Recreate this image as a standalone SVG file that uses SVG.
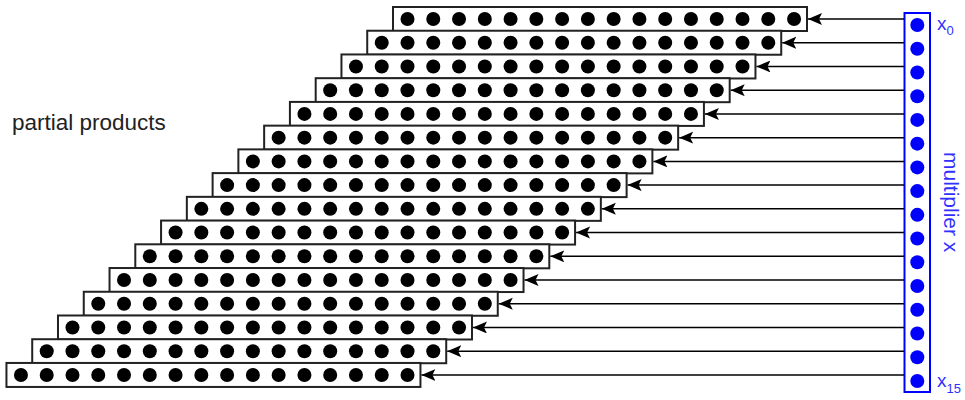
<svg xmlns="http://www.w3.org/2000/svg" xmlns:xlink="http://www.w3.org/1999/xlink" width="965" height="400" viewBox="0 0 965 400">
<style>
.row rect{fill:#fff;stroke:#222;stroke-width:2}
.dot{fill:#000}
.bdot{fill:#0000ff}
.conn path{stroke:#000;stroke-width:1.5;fill:none}
.lbl{font-family:"Liberation Sans",Arial,sans-serif;fill:#222}
.blbl{font-family:"Liberation Sans",Arial,sans-serif;fill:#3030ff}
</style>
<defs>
<marker id="ah" markerUnits="userSpaceOnUse" markerWidth="16" markerHeight="14" refX="14" refY="6" orient="auto">
<path d="M0,0 L14,6 L0,12 L3,6 z" fill="#000"/>
</marker>
<g id="row" class="row">
<rect x="0" y="0" width="414" height="24"/>
<g class="dot">
<circle cx="14.5" cy="12" r="7"/><circle cx="40.27" cy="12" r="7"/><circle cx="66.04" cy="12" r="7"/><circle cx="91.81" cy="12" r="7"/>
<circle cx="117.58" cy="12" r="7"/><circle cx="143.35" cy="12" r="7"/><circle cx="169.12" cy="12" r="7"/><circle cx="194.89" cy="12" r="7"/>
<circle cx="220.66" cy="12" r="7"/><circle cx="246.43" cy="12" r="7"/><circle cx="272.2" cy="12" r="7"/><circle cx="297.97" cy="12" r="7"/>
<circle cx="323.74" cy="12" r="7"/><circle cx="349.51" cy="12" r="7"/><circle cx="375.28" cy="12" r="7"/><circle cx="401.05" cy="12" r="7"/>
</g>
</g>
</defs>
<rect width="965" height="400" fill="#fff"/>
<g id="pp0"><use href="#row" transform="translate(393,7)"/></g>
<g id="pp1"><use href="#row" transform="translate(367.23,30.73)"/></g>
<g id="pp2"><use href="#row" transform="translate(341.46,54.46)"/></g>
<g id="pp3"><use href="#row" transform="translate(315.69,78.19)"/></g>
<g id="pp4"><use href="#row" transform="translate(289.92,101.92)"/></g>
<g id="pp5"><use href="#row" transform="translate(264.15,125.65)"/></g>
<g id="pp6"><use href="#row" transform="translate(238.38,149.38)"/></g>
<g id="pp7"><use href="#row" transform="translate(212.61,173.11)"/></g>
<g id="pp8"><use href="#row" transform="translate(186.84,196.84)"/></g>
<g id="pp9"><use href="#row" transform="translate(161.07,220.57)"/></g>
<g id="pp10"><use href="#row" transform="translate(135.3,244.3)"/></g>
<g id="pp11"><use href="#row" transform="translate(109.53,268.03)"/></g>
<g id="pp12"><use href="#row" transform="translate(83.76,291.76)"/></g>
<g id="pp13"><use href="#row" transform="translate(57.99,315.49)"/></g>
<g id="pp14"><use href="#row" transform="translate(32.22,339.22)"/></g>
<g id="pp15"><use href="#row" transform="translate(6.45,362.95)"/></g>
<g id="multiplier">
<rect x="904.5" y="13" width="25.5" height="379" fill="#fff" stroke="#0000ff" stroke-width="2"/>
<g class="bdot">
<circle cx="917.3" cy="25" r="7"/><circle cx="917.3" cy="48.73" r="7"/><circle cx="917.3" cy="72.46" r="7"/><circle cx="917.3" cy="96.19" r="7"/>
<circle cx="917.3" cy="119.92" r="7"/><circle cx="917.3" cy="143.65" r="7"/><circle cx="917.3" cy="167.38" r="7"/><circle cx="917.3" cy="191.11" r="7"/>
<circle cx="917.3" cy="214.84" r="7"/><circle cx="917.3" cy="238.57" r="7"/><circle cx="917.3" cy="262.3" r="7"/><circle cx="917.3" cy="286.03" r="7"/>
<circle cx="917.3" cy="309.76" r="7"/><circle cx="917.3" cy="333.49" r="7"/><circle cx="917.3" cy="357.22" r="7"/><circle cx="917.3" cy="380.95" r="7"/>
</g>
<text class="blbl" x="937" y="30" font-size="19">x<tspan font-size="13" dy="5">0</tspan></text>
<text class="blbl" x="937" y="387" font-size="19">x<tspan font-size="13" dy="6">15</tspan></text>
<text class="blbl" font-size="21" transform="translate(944,152) rotate(90)">multiplier x</text>
</g>
<g id="label"><text class="lbl" x="12" y="130" font-size="22.5">partial products</text></g>
<g class="conn" id="connectors">
<path d="M904,19 H808" marker-end="url(#ah)"/>
<path d="M904,42.73 H782.23" marker-end="url(#ah)"/>
<path d="M904,66.46 H756.46" marker-end="url(#ah)"/>
<path d="M904,90.19 H730.69" marker-end="url(#ah)"/>
<path d="M904,113.92 H704.92" marker-end="url(#ah)"/>
<path d="M904,137.65 H679.15" marker-end="url(#ah)"/>
<path d="M904,161.38 H653.38" marker-end="url(#ah)"/>
<path d="M904,185.11 H627.61" marker-end="url(#ah)"/>
<path d="M904,208.84 H601.84" marker-end="url(#ah)"/>
<path d="M904,232.57 H576.07" marker-end="url(#ah)"/>
<path d="M904,256.3 H550.3" marker-end="url(#ah)"/>
<path d="M904,280.03 H524.53" marker-end="url(#ah)"/>
<path d="M904,303.76 H498.76" marker-end="url(#ah)"/>
<path d="M904,327.49 H472.99" marker-end="url(#ah)"/>
<path d="M904,351.22 H447.22" marker-end="url(#ah)"/>
<path d="M904,374.95 H421.45" marker-end="url(#ah)"/>
</g>
</svg>
